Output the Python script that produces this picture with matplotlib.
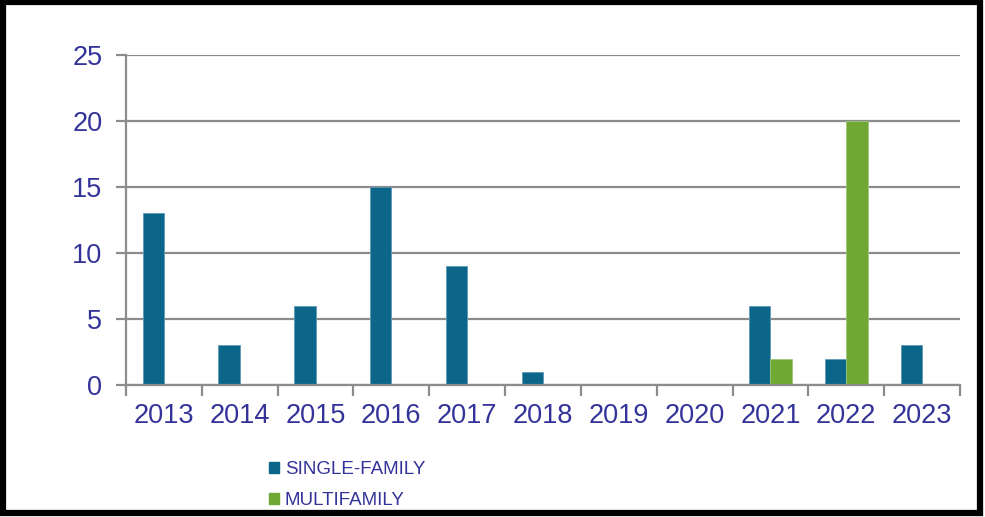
import matplotlib
matplotlib.use("Agg")
import matplotlib.pyplot as plt
from matplotlib.patches import Rectangle, Patch
import numpy as np

plt.rcParams['font.family'] = ['Liberation Sans', 'DejaVu Sans']

years = ['2013', '2014', '2015', '2016', '2017', '2018', '2019', '2020', '2021', '2022', '2023']
single_family = [13, 3, 6, 15, 9, 1, 0, 0, 6, 2, 3]
multifamily = [0, 0, 0, 0, 0, 0, 0, 0, 2, 20, 0]

BLUE = '#0b668a'
GREEN = '#6fa832'
TEXT = '#333399'
GRID = '#8c8c8c'

fig = plt.figure(figsize=(9.85, 5.17), dpi=100)
ax = fig.add_axes([126 / 985, 1 - 385 / 517, (960 - 126) / 985, (385 - 55) / 517])

x = np.arange(len(years))
w = 0.28
ax.bar(x - w / 2, single_family, w, color=BLUE, edgecolor='#5e9ab5', linewidth=0.6, zorder=3)
ax.bar(x + w / 2, multifamily, w, color=GREEN, edgecolor='#9cc77a', linewidth=0.6, zorder=3)

ax.set_xlim(-0.5, len(years) - 0.5)
ax.set_ylim(0, 25)
ax.set_yticks([0, 5, 10, 15, 20, 25])
ax.yaxis.grid(True, color=GRID, linewidth=1.6, zorder=1)

# category labels centered, tick marks on category boundaries
ax.set_xticks(x)
ax.set_xticklabels(years)
ax.tick_params(axis='x', which='major', length=0, pad=13, labelsize=19.5, labelcolor=TEXT)
ax.set_xticks(np.arange(-0.5, len(years)), minor=True)
ax.tick_params(axis='x', which='minor', length=8, width=1.6, color=GRID, direction='out')
ax.tick_params(axis='y', length=7, width=1.6, color=GRID, pad=10, labelsize=19.5, labelcolor=TEXT)

for side in ['top', 'right']:
    ax.spines[side].set_visible(False)
for side in ['left', 'bottom']:
    ax.spines[side].set_color(GRID)
    ax.spines[side].set_linewidth(1.6)
    ax.spines[side].set_zorder(4)

handles = [Patch(color=BLUE, label='SINGLE-FAMILY'), Patch(color=GREEN, label='MULTIFAMILY')]
fig.legend(handles=handles, loc='upper left', bbox_to_anchor=(252 / 985, 1 - 444 / 517),
           frameon=False, fontsize=13.5, handlelength=0.55, handleheight=0.55,
           handletextpad=0.3, labelspacing=0.75, labelcolor=TEXT)

# black frame around the whole chart
fig.patches.append(Rectangle((0.003, 0.008), 0.992, 0.988, transform=fig.transFigure,
                             fill=False, edgecolor='black', linewidth=4.5))

fig.savefig('out.png', dpi=100)
